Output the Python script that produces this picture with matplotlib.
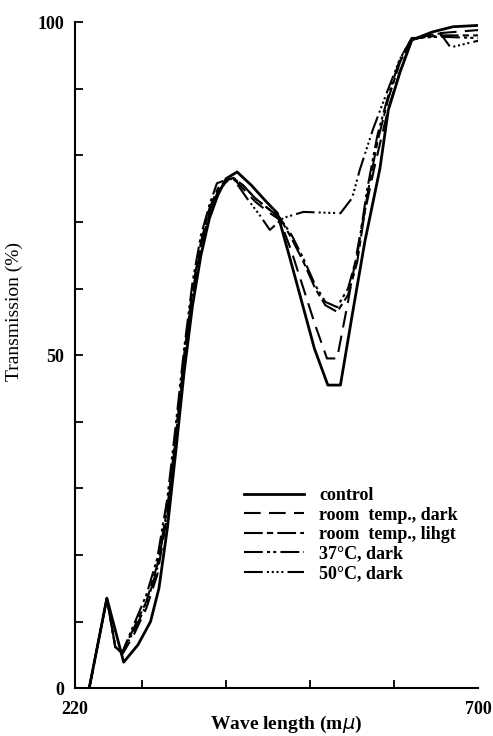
import matplotlib.pyplot as plt
from matplotlib.ticker import MultipleLocator, FixedLocator

plt.rcParams['font.family'] = ['Liberation Serif', 'DejaVu Serif']

# transmission spectra (wave length in m-mu, transmission in %)
wl_control = [237, 258, 278, 295, 310, 320, 330, 340, 350, 360, 370, 380, 390, 400, 413,
              430, 448, 461, 476, 490, 505, 521, 536, 550, 565, 583, 593, 607, 621, 645, 670, 700]
t_control = [0, 13.5, 3.9, 6.5, 10, 15, 24, 35.5, 47.5, 57.5, 65, 70.5, 74, 76.5, 77.5,
             75.5, 73, 71.3, 64.5, 58, 51, 45.5, 45.5, 56, 67, 78, 86.8, 92.5, 97.3, 98.5, 99.3, 99.5]

wl_room_dark = [237, 258, 268, 276, 290, 305, 318, 330, 340, 350, 360, 370, 380, 390, 400, 408,
                420, 435, 450, 464, 478, 492, 506, 520, 532, 545, 560, 577, 593, 608, 621, 650, 680, 700]
t_room_dark = [0, 13.5, 6.2, 5.0, 8, 12, 17, 26, 37, 49, 59, 66, 71.5, 74.5, 76, 76.6,
               75, 73, 71.5, 70.3, 65.5, 60, 54.5, 49.5, 49.5, 58, 68.5, 78.5, 87, 93, 97.3, 98.3, 98.6, 98.8]

wl_room_light = [237, 258, 268, 276, 290, 305, 318, 330, 340, 350, 360, 370, 380, 390, 400, 408,
                 420, 435, 450, 464, 478, 492, 506, 518, 532, 545, 556, 568, 580, 593, 607, 621, 655, 700]
t_room_light = [0, 13.5, 6.2, 5.3, 9, 13, 18.5, 27, 38, 50, 60, 67, 72, 75, 76.2, 76.6,
                75.5, 73.5, 72, 70.6, 67.5, 64, 60, 57.5, 56.5, 59, 64, 74, 82, 88.5, 94, 97.5, 98, 98]

wl_37 = [237, 258, 268, 276, 290, 305, 318, 330, 340, 350, 360, 370, 380, 389, 408,
         420, 435, 450, 464, 478, 492, 506, 518, 532, 545, 556, 568, 580, 593, 607, 621, 655, 700]
t_37 = [0, 13.5, 6.2, 5.3, 9.5, 14, 19.5, 28.5, 39.5, 51, 61, 68, 72.5, 75.8, 76.7,
        75.5, 73.5, 72, 70.6, 68, 64.5, 60.5, 58, 57.2, 60, 65, 75, 83, 89, 94.5, 97.6, 97.8, 97.6]

wl_50 = [237, 258, 268, 276, 290, 305, 318, 330, 340, 350, 360, 370, 380, 390, 400, 408,
         425, 440, 452, 468, 492, 536, 550, 559, 575, 593, 607, 621, 655, 667, 700]
t_50 = [0, 13.5, 6.2, 5.3, 8.5, 12.5, 18, 26.5, 37.5, 49.5, 59.5, 66.5, 71.5, 74.5, 76, 76.6,
        73.5, 71, 68.8, 70.6, 71.5, 71.3, 73.6, 77.8, 84, 90, 94.5, 97.6, 98.3, 96.2, 97.2]

labels = ['control', 'room  temp., dark', 'room  temp., lihgt', '37°C, dark', '50°C, dark']

fig = plt.figure(figsize=(4.93, 7.36), dpi=100)
ax = fig.add_axes([0.152, 0.065, 0.818, 0.905])

ax.plot(wl_control, t_control, color='black', lw=2.0, ls='-', label=labels[0])
ax.plot(wl_room_dark, t_room_dark, color='black', lw=1.5, ls=(0, (8, 4)), label=labels[1])
ax.plot(wl_room_light, t_room_light, color='black', lw=1.5, ls=(0, (9, 2, 3, 2)), label=labels[2])
ax.plot(wl_37, t_37, color='black', lw=1.5, ls=(0, (9, 2, 1.5, 1.5, 1.5, 2)), label=labels[3])
ax.plot(wl_50, t_50, color='black', lw=1.5,
        ls=(0, (9, 2, 1, 1.3, 1, 1.3, 1, 1.3, 1, 2)), label=labels[4])

ax.set_xlim(220, 700)
ax.set_ylim(0, 100)
ax.spines['top'].set_visible(False)
ax.spines['right'].set_visible(False)
ax.spines['left'].set_linewidth(1.5)
ax.spines['bottom'].set_linewidth(1.5)

ax.xaxis.set_major_locator(FixedLocator([220, 700]))
ax.xaxis.set_minor_locator(FixedLocator([300, 400, 500, 600, 700]))
ax.yaxis.set_major_locator(FixedLocator([0, 50, 100]))
ax.yaxis.set_minor_locator(MultipleLocator(10))
ax.tick_params(which='both', direction='in', width=1.3)
ax.tick_params(axis='x', which='major', length=0, pad=9)
ax.tick_params(axis='x', which='minor', length=6)
ax.tick_params(axis='y', which='major', length=6, pad=8)
ax.tick_params(axis='y', which='minor', length=6)
for lab in ax.get_xticklabels() + ax.get_yticklabels():
    lab.set_fontsize(13)
    lab.set_fontweight('bold')

ax.set_xlabel('Wave length (m$\\mu$)', fontsize=14, fontweight='bold')
ax.xaxis.set_label_coords(0.524, -0.038)
ax.set_ylabel('Transmission (%)', fontsize=14)
ax.yaxis.set_label_coords(-0.13, 0.566)

leg = ax.legend(loc='upper left', bbox_to_anchor=(0.42, 0.302), frameon=False,
                fontsize=13, handlelength=3.3, handletextpad=0.85, labelspacing=0.14,
                borderpad=0, borderaxespad=0)
for txt in leg.get_texts():
    txt.set_fontweight('bold')

fig.savefig('out.png', dpi=100)
